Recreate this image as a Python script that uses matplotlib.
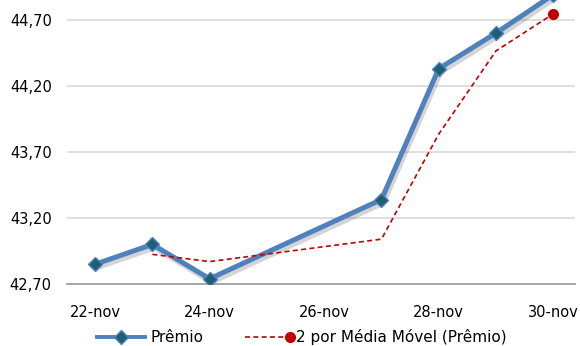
import matplotlib
matplotlib.use("Agg")
import matplotlib.pyplot as plt
import matplotlib.patheffects as pe
from matplotlib.lines import Line2D
import pandas as pd

# daily premium, November
days = [22, 23, 24, 27, 28, 29, 30]
premio = [42.85, 43.00, 42.74, 43.34, 44.33, 44.60, 44.89]

tick_days = [22, 24, 26, 28, 30]
tick_labels = ["22-nov", "24-nov", "26-nov", "28-nov", "30-nov"]
y_ticks = [42.70, 43.20, 43.70, 44.20, 44.70]

# 2-period moving average trendline
media_movel = pd.Series(premio).rolling(2).mean()

blue = "#4F81BD"
marker_face = "#1F5F73"
red = "#C00000"

fig = plt.figure(figsize=(5.8, 3.46), dpi=100)
ax = fig.add_axes([0.1155, 0.179, 0.876, 0.821])

# soft shadow under the main line
ax.plot(days, premio, color=blue, lw=3.6, zorder=2, solid_joinstyle="round",
        path_effects=[pe.SimpleLineShadow(offset=(1.5, -2.5), shadow_color="#555555",
                                          alpha=0.25), pe.Normal()])
ax.plot(days, premio, color=blue, lw=0, marker="D", ms=7,
        mfc=marker_face, mec=blue, mew=1.0, zorder=3)
ax.plot(days, media_movel, color=red, lw=1.2, ls=(0, (3, 2)),
        marker="o", markevery=[len(days) - 1], ms=7, mfc=red, mec=red, zorder=4)

ax.set_xlim(21.51, 30.38)
ax.set_ylim(42.70, 44.85)
ax.set_xticks(tick_days)
ax.set_xticklabels(tick_labels)
ax.set_yticks(y_ticks)
ax.set_yticklabels([f"{v:.2f}".replace(".", ",") for v in y_ticks])
ax.tick_params(axis="both", length=0, labelsize=10.5, colors="#000000")
ax.tick_params(axis="x", pad=15)
ax.tick_params(axis="y", pad=11)

ax.grid(axis="y", color="#D9D9D9", lw=1.2)
ax.set_axisbelow(True)
for side in ["top", "right", "left"]:
    ax.spines[side].set_visible(False)
ax.spines["bottom"].set_color("#A6A6A6")
ax.spines["bottom"].set_linewidth(1.4)

# legend row along the bottom
ly = 1 - 337 / 346
fig.add_artist(Line2D([97 / 580, 145 / 580], [ly, ly], color=blue, lw=2.8,
                      transform=fig.transFigure))
fig.add_artist(Line2D([121 / 580], [ly], marker="D", ms=7, mfc=marker_face,
                      mec=blue, mew=1.0, transform=fig.transFigure))
fig.text(150 / 580, ly, "Prêmio", fontsize=11, va="center", ha="left")
fig.add_artist(Line2D([245 / 580, 290 / 580], [ly, ly], color=red, lw=1.2,
                      ls=(0, (3, 2)), transform=fig.transFigure))
fig.add_artist(Line2D([290 / 580], [ly], marker="o", ms=7, mfc=red, mec=red,
                      transform=fig.transFigure))
fig.text(296 / 580, ly, "2 por Média Móvel (Prêmio)", fontsize=11,
         va="center", ha="left")

fig.savefig("out.png", dpi=100)
